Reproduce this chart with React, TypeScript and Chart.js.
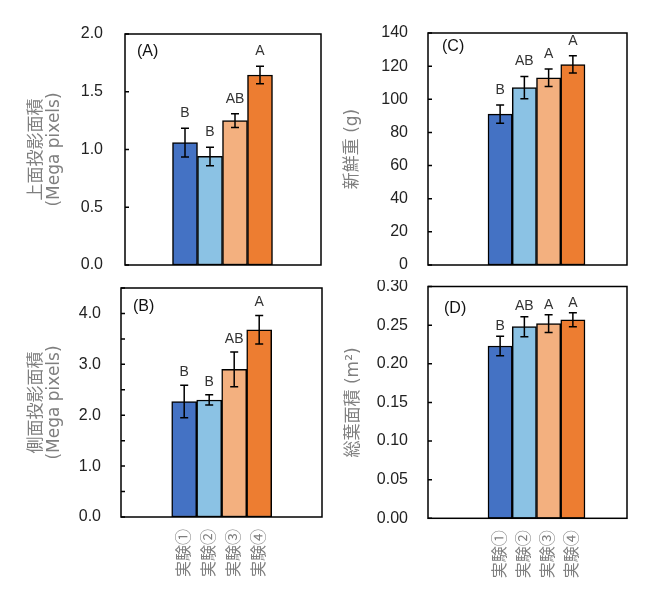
import React, { useEffect, useRef } from 'react';
import { Chart, registerables } from 'chart.js';

Chart.register(...registerables);

const categories = ['実験①', '実験②', '実験③', '実験④'];
const barColors = ['#4472C4', '#8BC2E4', '#F3B07F', '#ED7D31'];

const topAreaValues = [1.06, 0.94, 1.25, 1.645];
const topAreaErrors = [0.125, 0.08, 0.06, 0.075];
const topAreaLetters = ['B', 'B', 'AB', 'A'];

const sideAreaValues = [2.27, 2.3, 2.9, 3.68];
const sideAreaErrors = [0.32, 0.1, 0.34, 0.28];
const sideAreaLetters = ['B', 'B', 'AB', 'A'];

const freshWeightValues = [91, 107, 113, 121];
const freshWeightErrors = [5.5, 6.7, 5.3, 5.2];
const freshWeightLetters = ['B', 'AB', 'A', 'A'];

const leafAreaValues = [0.223, 0.248, 0.252, 0.257];
const leafAreaErrors = [0.0125, 0.013, 0.0115, 0.009];
const leafAreaLetters = ['B', 'AB', 'A', 'A'];

const FONT = '"Liberation Sans", Arial, "Noto Sans CJK JP", sans-serif';
const TITLE_FONT = '"DejaVu Sans", "Noto Sans CJK JP", sans-serif';
const GRAY = '#7F7F7F';

interface PanelProps {
  tag: string;
  values: number[];
  errors: number[];
  letters: string[];
  yTitle: string | string[];
  yMax: number;
  yStep: number;
  labelStep: number;
  decimals: number;
  showCategories: boolean;
  left: number;
  top: number;
  width: number;
  height: number;
  pad: { left: number; right: number; top: number; bottom: number };
  axisWidth: number;
  axisHeight: number;
  tickPad: number;
  xMin: number;
  xMax: number;
  letterGap: number;
  tagDx: number;
  tagDy: number;
}

const Panel: React.FC<PanelProps> = (p) => {
  const chartRef = useRef<HTMLCanvasElement>(null);

  useEffect(() => {
    if (!chartRef.current) return;
    const ctx = chartRef.current.getContext('2d');
    if (!ctx) return;

    const decor = {
      id: 'panelDecor',
      afterDatasetsDraw(chart: Chart) {
        const c = chart.ctx;
        const area = chart.chartArea;
        const y = chart.scales.y;
        const meta = chart.getDatasetMeta(0);
        c.save();
        c.strokeStyle = '#000';
        c.lineWidth = 1.5;
        c.fillStyle = '#333';
        c.font = '14px ' + FONT;
        c.textAlign = 'center';
        c.textBaseline = 'middle';
        p.values.forEach((v, i) => {
          const bar = meta.data[i];
          const hi = y.getPixelForValue(v + p.errors[i]);
          const lo = y.getPixelForValue(v - p.errors[i]);
          c.beginPath();
          c.moveTo(bar.x, hi);
          c.lineTo(bar.x, lo);
          c.moveTo(bar.x - 4, hi);
          c.lineTo(bar.x + 4, hi);
          c.moveTo(bar.x - 4, lo);
          c.lineTo(bar.x + 4, lo);
          c.stroke();
          c.fillText(p.letters[i], bar.x, hi - p.letterGap);
        });
        // frame and inward ticks
        c.strokeRect(area.left, area.top, area.right - area.left, area.bottom - area.top);
        c.beginPath();
        y.ticks.forEach((t) => {
          const py = y.getPixelForValue(t.value);
          c.moveTo(area.left, py);
          c.lineTo(area.left + 4, py);
        });
        c.stroke();
        c.fillStyle = '#111';
        c.font = '16px ' + FONT;
        c.textAlign = 'left';
        c.fillText(p.tag, area.left + p.tagDx, area.top + p.tagDy);
        c.restore();
      },
    };

    const chart = new Chart(ctx, {
      type: 'bar',
      data: {
        datasets: [
          {
            data: p.values.map((v, i) => ({ x: i + 1, y: v })),
            backgroundColor: barColors,
            borderColor: '#000',
            borderWidth: 1.5,
            borderSkipped: false,
            barPercentage: 1,
            categoryPercentage: 1,
          },
        ],
      },
      options: {
        responsive: false,
        animation: false,
        events: [],
        layout: { padding: p.pad },
        plugins: { legend: { display: false }, tooltip: { enabled: false } },
        scales: {
          x: {
            type: 'linear',
            offset: false,
            min: p.xMin,
            max: p.xMax,
            grid: { display: false, drawTicks: false },
            border: { display: false },
            afterBuildTicks: (scale: any) => {
              scale.ticks = categories.map((_, i) => ({ value: i + 1 }));
            },
            afterFit: (scale: any) => {
              scale.height = p.axisHeight;
              scale.paddingLeft = 0;
              scale.paddingRight = 0;
            },
            ticks: {
              display: p.showCategories,
              autoSkip: false,
              minRotation: 90,
              maxRotation: 90,
              padding: 12,
              color: GRAY,
              font: { family: FONT, size: 16 },
              callback: (v: any) => categories[Math.round(Number(v)) - 1] ?? '',
            },
          },
          y: {
            min: 0,
            max: p.yMax,
            grid: { display: false, drawTicks: false },
            border: { display: false },
            afterFit: (scale: any) => {
              scale.width = p.axisWidth;
              scale.paddingTop = 0;
              scale.paddingBottom = 0;
            },
            ticks: {
              stepSize: p.yStep,
              padding: p.tickPad,
              color: '#222',
              font: { family: FONT, size: 16 },
              callback: (v: any) => {
                const r = Number(v) / p.labelStep;
                return Math.abs(r - Math.round(r)) < 1e-6 ? Number(v).toFixed(p.decimals) : '';
              },
            },
            title: {
              display: true,
              text: p.yTitle,
              color: GRAY,
              padding: { top: 0, bottom: 0 },
              font: { family: TITLE_FONT, size: 17, lineHeight: '18px' },
            },
          },
        },
      },
      plugins: [decor],
    } as any);

    return () => {
      chart.destroy();
    };
  }, [p]);

  return (
    <canvas
      ref={chartRef}
      width={p.width}
      height={p.height}
      style={{ position: 'absolute', left: p.left, top: p.top, display: 'block' }}
    />
  );
};

const panels: PanelProps[] = [
  {
    tag: '(A)', values: topAreaValues, errors: topAreaErrors, letters: topAreaLetters,
    yTitle: ['上面投影面積', '(Mega pixels)'], yMax: 2, yStep: 0.5, labelStep: 0.5, decimals: 1,
    showCategories: false, left: 0, top: 0, width: 325, height: 280,
    pad: { left: 28, right: 4, top: 34, bottom: 15 }, axisWidth: 97, axisHeight: 0, tickPad: 22,
    xMin: -1.4, xMax: 6.44, letterGap: 15, tagDx: 12, tagDy: 18,
  },
  {
    tag: '(C)', values: freshWeightValues, errors: freshWeightErrors, letters: freshWeightLetters,
    yTitle: '新鮮重 (g)', yMax: 140, yStep: 20, labelStep: 20, decimals: 0,
    showCategories: false, left: 325, top: 0, width: 325, height: 280,
    pad: { left: 19, right: 23, top: 33, bottom: 15 }, axisWidth: 84, axisHeight: 0, tickPad: 20,
    xMin: -1.974, xMax: 6.232, letterGap: 15, tagDx: 14, tagDy: 14,
  },
  {
    tag: '(B)', values: sideAreaValues, errors: sideAreaErrors, letters: sideAreaLetters,
    yTitle: ['側面投影面積', '(Mega pixels)'], yMax: 4.5, yStep: 0.5, labelStep: 1, decimals: 1,
    showCategories: true, left: 0, top: 280, width: 325, height: 322,
    pad: { left: 28, right: 3, top: 8, bottom: 5 }, axisWidth: 93, axisHeight: 80, tickPad: 20,
    xMin: -1.528, xMax: 6.512, letterGap: 13, tagDx: 12, tagDy: 19,
  },
  {
    tag: '(D)', values: leafAreaValues, errors: leafAreaErrors, letters: leafAreaLetters,
    yTitle: '総葉面積 (m²)', yMax: 0.3, yStep: 0.05, labelStep: 0.05, decimals: 2,
    showCategories: true, left: 325, top: 280, width: 325, height: 322,
    pad: { left: 20, right: 23, top: 6.5, bottom: 3.7 }, axisWidth: 83, axisHeight: 80, tickPad: 20,
    xMin: -1.974, xMax: 6.232, letterGap: 10, tagDx: 16, tagDy: 22,
  },
];

export default function App() {
  return (
    <div style={{ position: 'absolute', left: 0, top: 0, width: 650, height: 602, background: '#fff' }}>
      {panels.map((p) => (
        <Panel key={p.tag} {...p} />
      ))}
    </div>
  );
}
